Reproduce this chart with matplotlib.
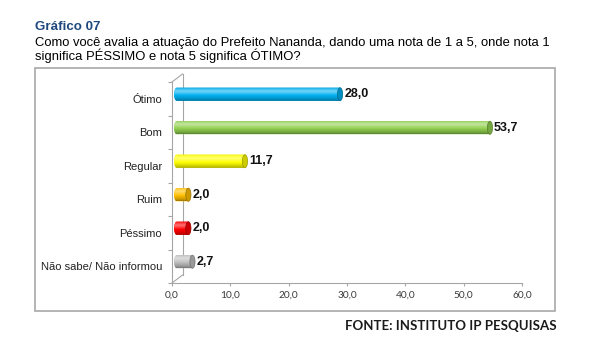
import numpy as np
import matplotlib
matplotlib.use('Agg')
import matplotlib.pyplot as plt
from matplotlib.patches import Rectangle, Ellipse, Polygon
from matplotlib.lines import Line2D
from matplotlib.transforms import offset_copy, IdentityTransform
from matplotlib.colors import to_rgb

# dados do grafico
categorias = ['Ótimo', 'Bom', 'Regular', 'Ruim', 'Péssimo', 'Não sabe/ Não informou']
valores = [28.0, 53.7, 11.7, 2.0, 2.0, 2.7]
cores = ['#00b0f0', '#92d050', '#ffff00', '#ffc000', '#ff0000', '#bfbfbf']
ticks_x = [0, 10, 20, 30, 40, 50, 60]

titulo = 'Gráfico 07'
pergunta = ['Como você avalia a atuação do Prefeito Nananda, dando uma nota de 1 a 5, onde nota 1',
            'significa PÉSSIMO e nota 5 significa ÓTIMO?']
fonte = 'FONTE: INSTITUTO IP PESQUISAS'

W, H = 600, 348
fig = plt.figure(figsize=(6, 3.48), dpi=100)


def fx(px):
    return px / W


def fy(py):
    return 1 - py / H


def vir(v):
    return ('%.1f' % v).replace('.', ',')


def degrade(cor, n=48):
    base = np.array(to_rgb(cor))
    claro = base + (1 - base) * 0.45
    escuro = base * 0.62
    pos = [0.0, 0.12, 0.3, 0.6, 0.88, 1.0]
    cs = [base * 0.88, base + (1 - base) * 0.2, claro, base, base * 0.8, escuro]
    t = np.linspace(0, 1, n)
    arr = np.stack([np.interp(t, pos, [c[k] for c in cs]) for k in range(3)], axis=-1)
    return np.clip(arr[:, None, :], 0, 1)


cinza = '#a6a6a6'

# moldura
fig.add_artist(Rectangle((fx(35), fy(311)), fx(555) - fx(35), (311 - 68) / H,
                         transform=fig.transFigure, fill=False, ec='#a8a8a8', lw=1.2))

fig.text(fx(35), fy(30), titulo, fontsize=9.6, fontweight='bold', color='#1f497d',
         family='Liberation Sans', va='baseline')
fig.text(fx(35), fy(46), pergunta[0], fontsize=9.4, color='black',
         family='Liberation Sans', va='baseline')
fig.text(fx(35), fy(60), pergunta[1], fontsize=9.4, color='black',
         family='Liberation Sans', va='baseline')
fig.text(fx(557), fy(329.5), fonte, ha='right', va='baseline', fontsize=9.5,
         fontweight='bold', family='Lato', color='#1a1a1a')

ax = fig.add_axes([fx(172), fy(283), fx(522) - fx(172), (283 - 82) / H])
ax.patch.set_facecolor('none')
for s in ['top', 'right']:
    ax.spines[s].set_visible(False)
for s in ['left', 'bottom']:
    ax.spines[s].set_color(cinza)
    ax.spines[s].set_linewidth(0.8)

# parede do fundo (efeito 3D)
dx_p, dy_p = 10.5, 8
parede = offset_copy(ax.transAxes, fig=fig, x=dx_p, y=dy_p, units='dots')
ax.add_line(Line2D([0, 0], [0, 1], transform=parede, color=cinza, lw=0.8, clip_on=False))
for yy in [0, 1]:
    p0 = ax.transAxes.transform((0, yy))
    fig.add_artist(Line2D([p0[0], p0[0] + dx_p], [p0[1], p0[1] + dy_p],
                          transform=IdentityTransform(), color=cinza, lw=0.8))

# barras cilindricas
dx_b, dy_b = 4.7, 4.5
desloc = offset_copy(ax.transData, fig=fig, x=dx_b, y=dy_b, units='dots')
altura = 0.39
px_unid = 350 / 60
capw = 2 * 2.6 / px_unid

for i, (v, c) in enumerate(zip(valores, cores)):
    ang = np.linspace(np.pi / 2, 3 * np.pi / 2, 30)
    pts = [(capw / 2 * np.cos(a), i - altura / 2 * np.sin(a)) for a in ang]
    pts += [(v, i + altura / 2), (v, i - altura / 2)]
    corpo = Polygon(pts, closed=True, transform=desloc, fc=c, ec='none', zorder=2)
    ax.add_patch(corpo)
    im = ax.imshow(degrade(c), extent=(-capw / 2, v, i + altura / 2, i - altura / 2),
                   aspect='auto', transform=desloc, interpolation='bilinear', zorder=2.1)
    im.set_clip_path(corpo)
    base = np.array(to_rgb(c))
    tampa = Ellipse((v, i), capw, altura, transform=desloc, fc=base * 0.8,
                    ec=base * 0.6, lw=0.5, zorder=2.2)
    ax.add_patch(tampa)
    rot = offset_copy(ax.transData, fig=fig, x=dx_b + capw / 2 * px_unid + 1.5,
                      y=dy_b, units='dots')
    ax.text(v, i, vir(v), transform=rot, ha='left', va='center', fontsize=9,
            fontweight='bold', family='Liberation Sans', color='#111111', zorder=3)

ax.set_xlim(0, 60)
ax.set_ylim(5.5, -0.5)

ax.set_xticks(ticks_x)
ax.set_xticklabels([vir(t) for t in ticks_x], family='Lato', fontsize=7.3, color='#3a3a3a')
ax.tick_params(axis='x', length=2.5, color=cinza, width=0.8, pad=3)

ax.set_yticks(range(len(categorias)))
ax.set_yticklabels(categorias, family='Liberation Sans', fontsize=8, color='#222222')
ax.set_yticks(np.arange(-0.5, len(categorias), 1), minor=True)
ax.tick_params(axis='y', which='major', length=0, pad=7.2)
ax.tick_params(axis='y', which='minor', length=3, color=cinza, width=0.8)

fig.savefig('out.png', dpi=100)
